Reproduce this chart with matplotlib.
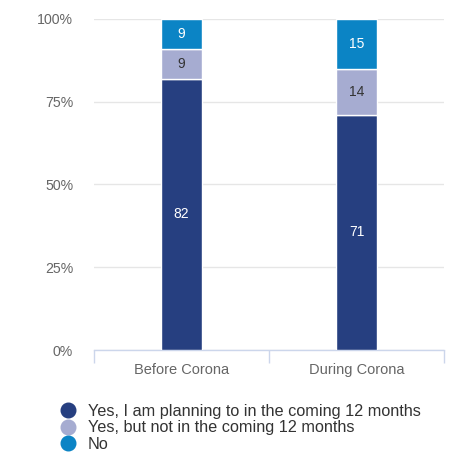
import matplotlib.pyplot as plt
from matplotlib.lines import Line2D
import numpy as np

plt.rcParams['font.family'] = ['Liberation Sans', 'DejaVu Sans']

categories = ["Before Corona", "During Corona"]
series_names = [
    "Yes, I am planning to in the coming 12 months",
    "Yes, but not in the coming 12 months",
    "No",
]
planning = [82, 71]
not_soon = [9, 14]
no = [9, 15]

colors = ["#263f80", "#a6acd1", "#0b84c5"]
label_colors = ["white", "#333333", "white"]

fig = plt.figure(figsize=(4.63, 4.65), dpi=100)
ax = fig.add_axes([94 / 463, 1 - 350 / 465, 350 / 463, 331 / 465])

x = np.arange(len(categories))
bottom = np.zeros(len(categories))
for vals, col, lc in zip([planning, not_soon, no], colors, label_colors):
    bars = ax.bar(x, vals, bottom=bottom, width=0.23, color=col,
                  edgecolor="white", linewidth=1.0, zorder=3)
    for b, v, y0 in zip(bars, vals, bottom):
        ax.text(b.get_x() + b.get_width() / 2, y0 + v / 2, str(v),
                ha="center", va="center", color=lc, fontsize=10, zorder=4)
    bottom += np.array(vals)

ax.set_xlim(-0.5, 1.5)
ax.set_ylim(0, 100)
ax.set_yticks([0, 25, 50, 75, 100])
ax.set_yticklabels(["0%", "25%", "50%", "75%", "100%"])
ax.yaxis.grid(True, color="#e6e6e6", linewidth=1, zorder=0)
ax.set_xticks(x)
ax.set_xticklabels(categories)
ax.set_xticks([-0.5, 0.5, 1.5], minor=True)
ax.tick_params(axis="x", which="major", length=0, pad=9, labelsize=10.5, labelcolor="#666666")
ax.tick_params(axis="x", which="minor", length=9, color="#ccd6eb", width=1)
ax.tick_params(axis="y", length=0, pad=15, labelsize=10.2, labelcolor="#666666")
for side in ["top", "right", "left"]:
    ax.spines[side].set_visible(False)
ax.spines["bottom"].set_color("#ccd6eb")
ax.spines["bottom"].set_linewidth(1)

handles = [Line2D([], [], marker="o", linestyle="none", markersize=10.5,
                  markerfacecolor=c, markeredgecolor=c) for c in colors]
fig.legend(handles, series_names, loc="upper left",
           bbox_to_anchor=(52 / 463, 1 - 396 / 465), frameon=False,
           fontsize=11.7, labelcolor="#333333", handletextpad=0.72,
           labelspacing=0.08, borderpad=0, handlelength=1.0)

fig.savefig("out.png", dpi=100)
